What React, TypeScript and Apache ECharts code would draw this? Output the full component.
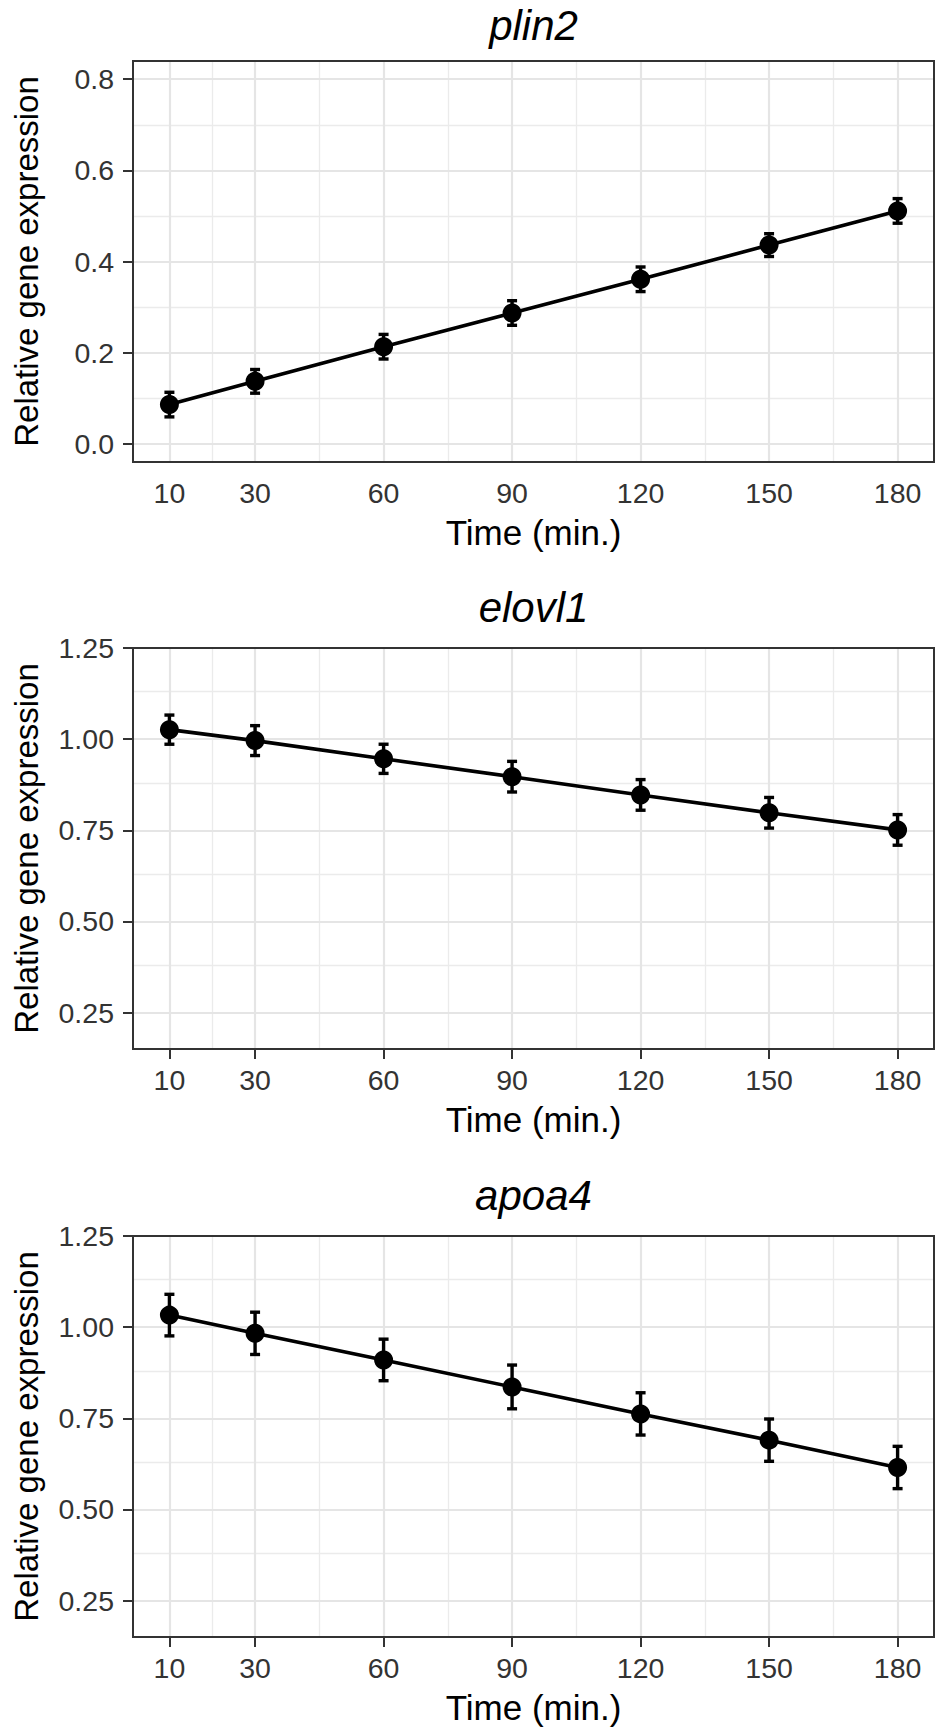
import React, { useEffect, useRef } from "react";
import * as echarts from "echarts";

const times = [10, 30, 60, 90, 120, 150, 180];
const xMajor = [10, 30, 60, 90, 120, 150, 180];
const xMinor = [20, 45, 75, 105, 135, 165];

const genes = ["plin2", "elovl1", "apoa4"];

const plin2Mean = [0.086, 0.137, 0.213, 0.287, 0.361, 0.436, 0.511];
const plin2Err = [0.027, 0.026, 0.027, 0.027, 0.027, 0.025, 0.027];

const elovl1Mean = [1.026, 0.996, 0.946, 0.897, 0.847, 0.798, 0.751];
const elovl1Err = [0.04, 0.041, 0.04, 0.042, 0.042, 0.042, 0.042];

const apoa4Mean = [1.033, 0.983, 0.91, 0.836, 0.762, 0.69, 0.615];
const apoa4Err = [0.057, 0.058, 0.057, 0.06, 0.058, 0.058, 0.058];

const yMajor1 = [0, 0.2, 0.4, 0.6, 0.8];
const yMinor1 = [0.1, 0.3, 0.5, 0.7];
const yMajor23 = [0.25, 0.5, 0.75, 1.0, 1.25];
const yMinor23 = [0.375, 0.625, 0.875, 1.125];

const yRanges = [
  [-0.04, 0.84],
  [0.15, 1.25],
  [0.15, 1.25],
];
const xRange = [1.5, 188.5];

const FONT = '"Liberation Sans", Arial, Helvetica, sans-serif';

export default function App() {
  const ref = useRef<HTMLDivElement>(null);

  useEffect(() => {
    if (!ref.current) return;
    const chart = echarts.init(ref.current, null, { renderer: "svg" });

    const means = [plin2Mean, elovl1Mean, apoa4Mean];
    const errs = [plin2Err, elovl1Err, apoa4Err];
    const yMajors = [yMajor1, yMajor23, yMajor23];
    const yMinors = [yMinor1, yMinor23, yMinor23];
    const decimals = [1, 2, 2];

    const left = 133;
    const width = 801;
    const height = 401;
    const tops = [61, 648, 1236];

    const grids: any[] = [];
    const xAxes: any[] = [];
    const yAxes: any[] = [];
    const series: any[] = [];
    const graphics: any[] = [];

    genes.forEach((g, i) => {
      grids.push({
        left,
        top: tops[i],
        width,
        height,
        show: true,
        borderColor: "#333333",
        borderWidth: 2,
        backgroundColor: "transparent",
        z: 20,
        containLabel: false,
        outerBoundsMode: "none",
      });
      xAxes.push({
        type: "value",
        gridIndex: i,
        min: xRange[0],
        max: xRange[1],
        axisLine: { show: false },
        splitLine: { show: false },
        axisTick: {
          show: true,
          customValues: xMajor,
          length: 10,
          lineStyle: { color: "#333333", width: 2 },
        },
        axisLabel: {
          show: true,
          customValues: xMajor,
          margin: 16,
          fontSize: 28.5,
          fontFamily: FONT,
          color: "#333333",
          formatter: (v: number) => String(v),
        },
        name: "Time (min.)",
        nameLocation: "middle",
        nameGap: 53,
        nameTextStyle: {
          fontSize: 35,
          fontFamily: FONT,
          color: "#000000",
          lineHeight: 35,
        },
      });
      yAxes.push({
        type: "value",
        gridIndex: i,
        min: yRanges[i][0],
        max: yRanges[i][1],
        axisLine: { show: false },
        splitLine: { show: false },
        axisTick: {
          show: true,
          customValues: yMajors[i],
          length: 10,
          lineStyle: { color: "#333333", width: 2 },
        },
        axisLabel: {
          show: true,
          customValues: yMajors[i],
          margin: 19,
          fontSize: 28.5,
          fontFamily: FONT,
          color: "#333333",
          formatter: (v: number) => v.toFixed(decimals[i]),
        },
        name: "Relative gene expression",
        nameLocation: "middle",
        nameGap: 90,
        nameTextStyle: {
          fontSize: 33,
          fontFamily: FONT,
          color: "#000000",
          lineHeight: 33,
        },
      });

      const markData: any[] = [];
      xMinor.forEach((v) =>
        markData.push({ xAxis: v, lineStyle: { color: "#ebebeb", width: 1.3, type: "solid" } })
      );
      yMinors[i].forEach((v) =>
        markData.push({ yAxis: v, lineStyle: { color: "#ebebeb", width: 1.3, type: "solid" } })
      );
      xMajor.forEach((v) =>
        markData.push({ xAxis: v, lineStyle: { color: "#e5e5e5", width: 2.2, type: "solid" } })
      );
      yMajors[i].forEach((v) =>
        markData.push({ yAxis: v, lineStyle: { color: "#e5e5e5", width: 2.2, type: "solid" } })
      );

      series.push({
        type: "line",
        xAxisIndex: i,
        yAxisIndex: i,
        data: [],
        silent: true,
        markLine: {
          silent: true,
          symbol: ["none", "none"],
          label: { show: false },
          animation: false,
          z: 1,
          data: markData,
        },
      });

      series.push({
        type: "custom",
        xAxisIndex: i,
        yAxisIndex: i,
        z: 10,
        silent: true,
        data: times.map((t, k) => [t, means[i][k] - errs[i][k], means[i][k] + errs[i][k]]),
        encode: { x: 0, y: [1, 2] },
        renderItem: (params: any, api: any) => {
          const x = api.value(0);
          const lo = api.coord([x, api.value(1)]);
          const hi = api.coord([x, api.value(2)]);
          const hw = 5;
          const style = { stroke: "#000000", lineWidth: 3.4 };
          return {
            type: "group",
            children: [
              { type: "line", shape: { x1: lo[0], y1: lo[1], x2: hi[0], y2: hi[1] }, style },
              { type: "line", shape: { x1: lo[0] - hw, y1: lo[1], x2: lo[0] + hw, y2: lo[1] }, style },
              { type: "line", shape: { x1: hi[0] - hw, y1: hi[1], x2: hi[0] + hw, y2: hi[1] }, style },
            ],
          };
        },
      });

      series.push({
        type: "line",
        name: g,
        xAxisIndex: i,
        yAxisIndex: i,
        z: 11,
        data: times.map((t, k) => [t, means[i][k]]),
        symbol: "circle",
        symbolSize: 19,
        showSymbol: true,
        itemStyle: { color: "#000000" },
        lineStyle: { color: "#000000", width: 3.6 },
        silent: true,
      });

      graphics.push({
        type: "text",
        x: left + width / 2,
        y: Math.max(tops[i] - 41, 25),
        style: {
          text: g,
          font: `italic 42px ${FONT}`,
          lineHeight: 42,
          fill: "#000000",
          textAlign: "center",
          textVerticalAlign: "middle",
        },
      });
    });

    chart.setOption({
      animation: false,
      backgroundColor: "#ffffff",
      grid: grids,
      xAxis: xAxes,
      yAxis: yAxes,
      series,
      graphic: graphics,
    });

    return () => chart.dispose();
  }, []);

  return (
    <div
      ref={ref}
      style={{ position: "absolute", left: 0, top: 0, width: 937, height: 1730 }}
    />
  );
}
